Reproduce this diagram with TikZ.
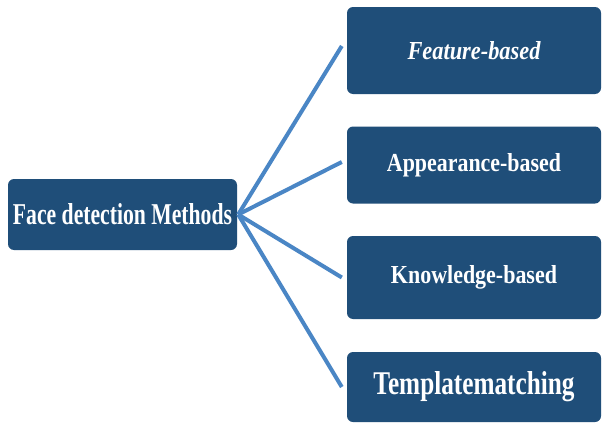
\documentclass[tikz,border=0pt]{standalone}
\usepackage{fontspec}
\setmainfont{Liberation Serif}
\usepackage{graphicx}
\definecolor{boxblue}{HTML}{1F4E79}
\definecolor{linkblue}{HTML}{4A86C5}
\newcommand{\fitlabel}[3]{\resizebox{#1pt}{#2pt}{\bfseries #3}}
\begin{document}
\begin{tikzpicture}[x=1pt,y=-1pt,
  methodbox/.style={fill=boxblue, rounded corners=6pt, text=white, inner sep=0pt},
  link/.style={draw=linkblue, line width=4pt}]
\useasboundingbox[fill=white] (0,0) rectangle (603,423);
\node[methodbox, minimum width=229pt, minimum height=71pt] (src) at (122.5,214.5) {\fitlabel{219}{21}{Face detection Methods}};
\node[methodbox, minimum width=254pt, minimum height=87pt] (b1) at (474,50.5) {\fitlabel{133}{18}{\itshape Feature-based}};
\node[methodbox, minimum width=254pt, minimum height=77pt] (b2) at (474,165) {\fitlabel{174}{18}{Appearance-based}};
\node[methodbox, minimum width=254pt, minimum height=83pt] (b3) at (474,277.5) {\fitlabel{166}{18}{Knowledge-based}};
\node[methodbox, minimum width=254pt, minimum height=70pt] (b4) at (474,387) {\fitlabel{201}{23}{Templatematching}};
\foreach \b/\dy in {b1/4.5, b2/3, b3/0, b4/0} {
  \draw[link] ([xshift=1pt]src.east) -- ([xshift=-5pt,yshift=\dy pt]\b.west);
}
\end{tikzpicture}
\end{document}
